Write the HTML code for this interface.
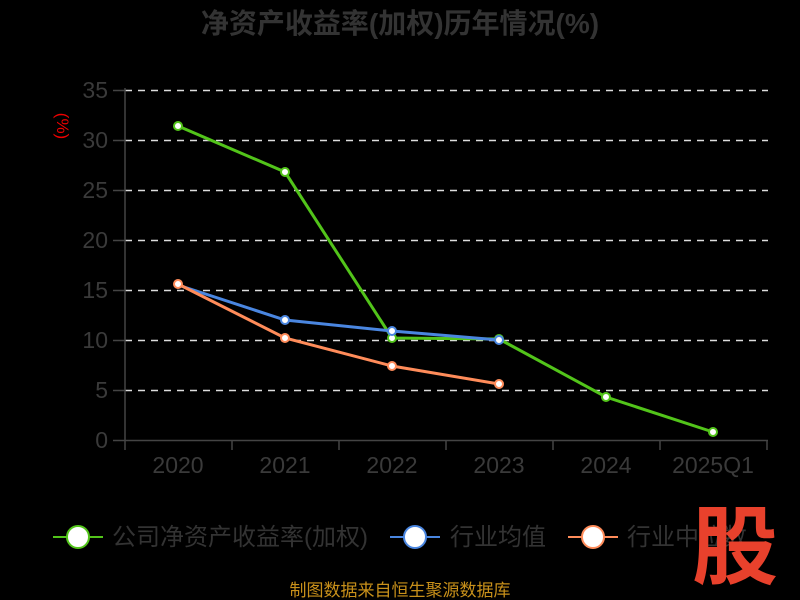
<!DOCTYPE html>
<html><head><meta charset="utf-8"><style>
html,body{margin:0;padding:0;background:#000;width:800px;height:600px;overflow:hidden}
svg text{font-family:"Liberation Sans","Noto Sans CJK SC",sans-serif}
</style></head><body>
<svg width="800" height="600" viewBox="0 0 800 600" xmlns="http://www.w3.org/2000/svg">
<rect width="800" height="600" fill="#000"/>
<text x="400" y="33" text-anchor="middle" font-size="28" font-weight="bold" fill="#333">净资产收益率(加权)历年情况(%)</text>
<g stroke="#ddd" stroke-width="1.5" stroke-dasharray="7,6">
<line x1="125" y1="90.5" x2="768" y2="90.5"/><line x1="125" y1="140.5" x2="768" y2="140.5"/>
<line x1="125" y1="190.5" x2="768" y2="190.5"/><line x1="125" y1="240.5" x2="768" y2="240.5"/>
<line x1="125" y1="290.5" x2="768" y2="290.5"/><line x1="125" y1="340.5" x2="768" y2="340.5"/>
<line x1="125" y1="390.5" x2="768" y2="390.5"/>
</g>
<g stroke="#444" stroke-width="1.5">
<line x1="125" y1="88" x2="125" y2="441"/><line x1="125" y1="440.5" x2="768" y2="440.5"/>
<line x1="113" y1="90.5" x2="125" y2="90.5"/><line x1="113" y1="140.5" x2="125" y2="140.5"/><line x1="113" y1="190.5" x2="125" y2="190.5"/><line x1="113" y1="240.5" x2="125" y2="240.5"/><line x1="113" y1="290.5" x2="125" y2="290.5"/><line x1="113" y1="340.5" x2="125" y2="340.5"/><line x1="113" y1="390.5" x2="125" y2="390.5"/><line x1="113" y1="440.5" x2="125" y2="440.5"/>
<line x1="125" y1="440" x2="125" y2="450"/><line x1="232" y1="440" x2="232" y2="450"/><line x1="339" y1="440" x2="339" y2="450"/><line x1="446" y1="440" x2="446" y2="450"/><line x1="553" y1="440" x2="553" y2="450"/><line x1="660" y1="440" x2="660" y2="450"/><line x1="767" y1="440" x2="767" y2="450"/>
</g>
<g fill="#3a3a3a" font-size="23" text-anchor="end">
<text x="108" y="98">35</text><text x="108" y="148">30</text><text x="108" y="198">25</text><text x="108" y="248">20</text><text x="108" y="298">15</text><text x="108" y="348">10</text><text x="108" y="398">5</text><text x="108" y="448">0</text>
</g>
<g fill="#3a3a3a" font-size="23" text-anchor="middle">
<text x="178" y="473">2020</text><text x="285" y="473">2021</text><text x="392" y="473">2022</text><text x="499" y="473">2023</text><text x="606" y="473">2024</text><text x="713" y="473">2025Q1</text>
</g>
<text transform="translate(57,126) rotate(90)" text-anchor="middle" fill="#e00" font-size="17">(%)</text>
<polyline fill="none" stroke="#52c41a" stroke-width="3" points="178,126 285,172 392,338 499,339 606,397 713,432"/>
<polyline fill="none" stroke="#4a86e0" stroke-width="3" points="178,285 285,320 392,331 499,340"/>
<polyline fill="none" stroke="#ff8c5a" stroke-width="3" points="178,284 285,338 392,366 499,384"/>
<g fill="#fff" stroke="#52c41a" stroke-width="2">
<circle cx="178" cy="126" r="4"/><circle cx="285" cy="172" r="4"/><circle cx="392" cy="338" r="4"/><circle cx="499" cy="339" r="4"/><circle cx="606" cy="397" r="4"/><circle cx="713" cy="432" r="4"/></g>
<g fill="#fff" stroke="#4a86e0" stroke-width="2">
<circle cx="285" cy="320" r="4"/><circle cx="392" cy="331" r="4"/><circle cx="499" cy="340" r="4"/></g>
<g fill="#fff" stroke="#ff8c5a" stroke-width="2">
<circle cx="178" cy="284" r="4"/><circle cx="285" cy="338" r="4"/><circle cx="392" cy="366" r="4"/><circle cx="499" cy="384" r="4"/></g>
<g stroke-width="2">
<line x1="53" y1="537" x2="103" y2="537" stroke="#52c41a"/><ellipse cx="78" cy="537" rx="11" ry="11" fill="#fff" stroke="#52c41a"/>
<line x1="390" y1="537" x2="440" y2="537" stroke="#4a86e0"/><ellipse cx="415" cy="537" rx="11" ry="11" fill="#fff" stroke="#4a86e0"/>
<line x1="568" y1="537" x2="618" y2="537" stroke="#ff8c5a"/><ellipse cx="593" cy="537" rx="11" ry="11" fill="#fff" stroke="#ff8c5a"/>
</g>
<g fill="#333" font-size="24">
<text x="112" y="545">公司净资产收益率(加权)</text><text x="450" y="545">行业均值</text><text x="627" y="545">行业中位数</text>
</g>
<text x="735" y="577" text-anchor="middle" font-size="86" font-weight="bold" fill="#e8412c" font-family="'Noto Sans CJK SC',sans-serif">股</text>
<text x="400" y="596" text-anchor="middle" font-size="17" fill="#c8901a">制图数据来自恒生聚源数据库</text>
</svg>
</body></html>
